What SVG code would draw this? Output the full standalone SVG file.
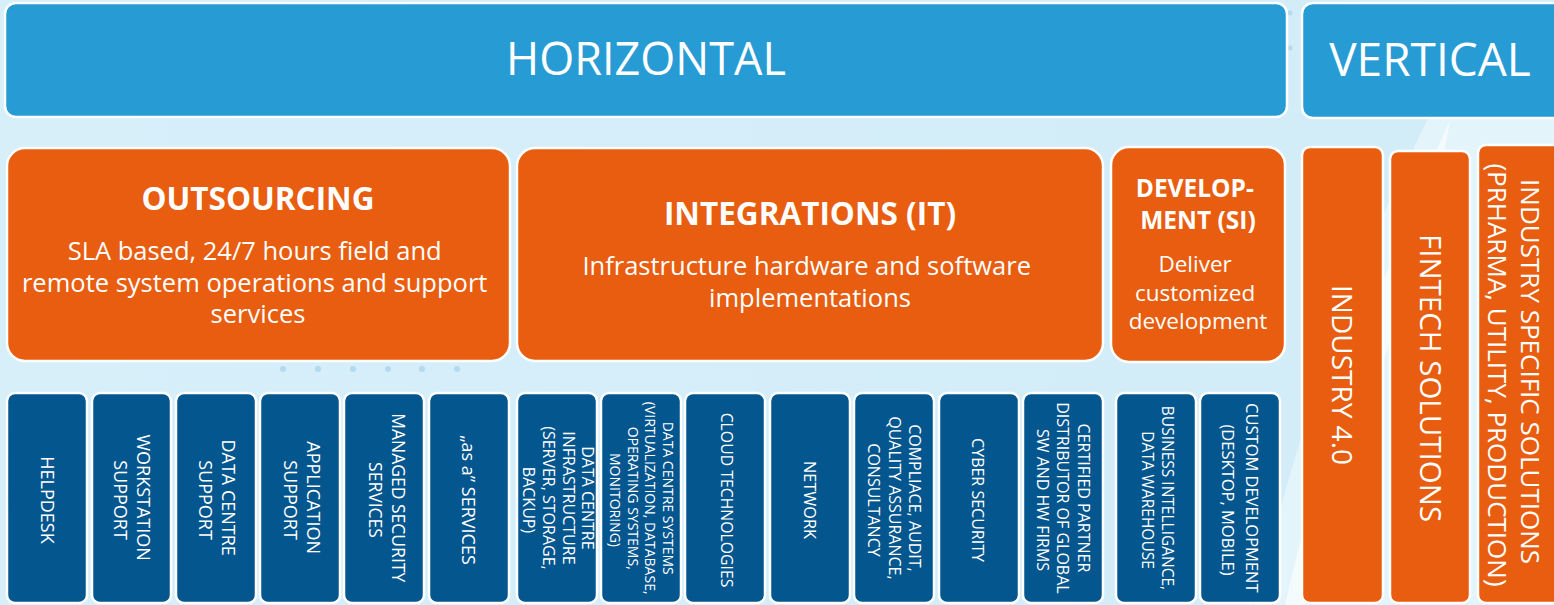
<svg xmlns="http://www.w3.org/2000/svg" width="1554" height="605" viewBox="0 0 1554 605">
<defs>
<linearGradient id="bg" x1="0" y1="0" x2="1" y2="0">
<stop offset="0" stop-color="#d6eff9"/>
<stop offset="1" stop-color="#d2ecf8"/>
</linearGradient>
<style>
.t{font-family:"Open Sans","Liberation Sans",sans-serif;fill:#ffffff}
.hd{fill:#279bd4;stroke:#ffffff;stroke-width:2.5}
.or{fill:#e85d0f;stroke:#ffffff;stroke-width:2.5}
.nv{fill:#04568f;stroke:#ffffff;stroke-width:2.5}
.b{font-weight:bold}
.dot{fill:#b5d9ee}
</style>
</defs>
<rect x="0" y="0" width="1554" height="605" fill="url(#bg)"/>
<path d="M1255,605 C1300,420 1360,250 1440,95 L1554,95 L1554,605 Z" fill="#e4f4fb"/>
<path d="M1285,605 C1320,450 1370,300 1450,120 C1420,300 1330,480 1305,605 Z" fill="#ffffff" opacity="0.6"/>
<g id="decor">
<circle class="dot" cx="283" cy="369" r="3"/>
<circle class="dot" cx="318" cy="369" r="3"/>
<circle class="dot" cx="353" cy="369" r="3"/>
<circle class="dot" cx="388" cy="369" r="3"/>
<circle class="dot" cx="422" cy="369" r="3"/>
<circle class="dot" cx="457" cy="369" r="3"/>
<circle class="dot" cx="1290" cy="13" r="2.5"/>
<circle class="dot" cx="1290" cy="48" r="2.5"/>
</g>
<g id="connectors"></g>

<g id="horizontal">
<rect class="hd" x="5" y="3" width="1282" height="114" rx="11"/>
<text class="t" x="646" y="75" font-size="45" text-anchor="middle">HORIZONTAL</text>
</g>
<g id="vertical">
<rect class="hd" x="1302" y="3" width="262" height="115" rx="11"/>
<text class="t" x="1430" y="76" font-size="46" text-anchor="middle">VERTICAL</text>
</g>

<g id="outsourcing">
<rect class="or" x="7" y="148" width="503" height="213" rx="18"/>
<text class="t b" x="258" y="210" font-size="31.5" text-anchor="middle">OUTSOURCING</text>
<text class="t" font-size="25.5" text-anchor="middle">
<tspan x="258" y="260">SLA based, 24/7 hours field and</tspan>
<tspan x="258" y="292">remote system operations and support</tspan>
<tspan x="258" y="323">services</tspan>
</text>
</g>
<g id="integrations">
<rect class="or" x="517" y="148" width="586" height="213" rx="18"/>
<text class="t b" x="810" y="225" font-size="31.5" text-anchor="middle">INTEGRATIONS (IT)</text>
<text class="t" font-size="25.5" text-anchor="middle">
<tspan x="810" y="275">Infrastructure hardware and software</tspan>
<tspan x="810" y="307">implementations</tspan>
</text>
</g>
<g id="development">
<rect class="or" x="1111" y="147" width="174" height="215" rx="18"/>
<text class="t b" font-size="24.5" text-anchor="middle">
<tspan x="1198" y="197">DEVELOP-</tspan>
<tspan x="1198" y="229">MENT (SI)</tspan>
</text>
<text class="t" font-size="22.5" text-anchor="middle">
<tspan x="1198" y="272">Deliver</tspan>
<tspan x="1198" y="300.5">customized</tspan>
<tspan x="1198" y="329">development</tspan>
</text>
</g>

<g id="industry40">
<rect class="or" x="1302" y="147" width="81" height="456" rx="8"/>
<text class="t" transform="translate(1342,375) rotate(90)" font-size="28" text-anchor="middle" y="10">INDUSTRY 4.0</text>
</g>
<g id="fintech">
<rect class="or" x="1390" y="151" width="80" height="452" rx="8"/>
<text class="t" transform="translate(1430,378) rotate(90)" font-size="29.5" text-anchor="middle" y="10.5">FINTECH SOLUTIONS</text>
</g>
<g id="industry-specific">
<rect class="or" x="1478" y="145" width="90" height="458" rx="8"/>
<text class="t" transform="translate(1513.5,375) rotate(90)" font-size="26" text-anchor="middle">
<tspan x="0" y="-7.2">INDUSTRY SPECIFIC SOLUTIONS</tspan>
<tspan x="0" y="25.8">(PRHARMA, UTILITY, PRODUCTION)</tspan>
</text>
</g>

<g id="helpdesk">
<rect class="nv" x="7" y="393" width="80" height="210" rx="8"/>
<text class="t" transform="translate(47,500) rotate(90)" font-size="18" text-anchor="middle" y="6.4">HELPDESK</text>
</g>
<g id="workstation">
<rect class="nv" x="92" y="393" width="79" height="210" rx="8"/>
<text class="t" transform="translate(132,500) rotate(90)" font-size="18" text-anchor="middle">
<tspan x="0" y="-5">WORKSTATION</tspan>
<tspan x="0" y="18">SUPPORT</tspan>
</text>
</g>
<g id="dc-support">
<rect class="nv" x="176" y="393" width="80" height="210" rx="8"/>
<text class="t" transform="translate(216.5,500) rotate(90)" font-size="18" text-anchor="middle">
<tspan x="0" y="-5">DATA CENTRE</tspan>
<tspan x="0" y="18">SUPPORT</tspan>
</text>
</g>
<g id="app-support">
<rect class="nv" x="260" y="393" width="80" height="210" rx="8"/>
<text class="t" transform="translate(301.5,500) rotate(90)" font-size="18" text-anchor="middle">
<tspan x="0" y="-5">APPLICATION</tspan>
<tspan x="0" y="18">SUPPORT</tspan>
</text>
</g>
<g id="managed-security">
<rect class="nv" x="344" y="393" width="80" height="210" rx="8"/>
<text class="t" transform="translate(386.5,500) rotate(90)" font-size="17.5" text-anchor="middle">
<tspan x="0" y="-5">MANAGED SECURITY</tspan>
<tspan x="0" y="18">SERVICES</tspan>
</text>
</g>
<g id="as-a-services">
<rect class="nv" x="429" y="393" width="80" height="210" rx="8"/>
<text class="t" transform="translate(468,500) rotate(90)" font-size="18" text-anchor="middle" y="6.4">„as a” SERVICES</text>
</g>

<g id="dc-infra">
<rect class="nv" x="517" y="393" width="80" height="210" rx="8"/>
<text class="t" transform="translate(557.5,500) rotate(90)" font-size="16" text-anchor="middle">
<tspan x="0" y="-24.8">DATA CENTRE</tspan>
<tspan x="0" y="-5">INFRASTRUCTURE</tspan>
<tspan x="0" y="14.8">(SERVER, STORAGE,</tspan>
<tspan x="0" y="34.6">BACKUP)</tspan>
</text>
</g>
<g id="dc-systems">
<rect class="nv" x="601" y="393" width="80" height="210" rx="8"/>
<text class="t" transform="translate(641.5,500) rotate(90)" font-size="14" text-anchor="middle">
<tspan x="0" y="-21.5">DATA CENTRE SYSTEMS</tspan>
<tspan x="0" y="-3.8">(VIRTUALIZATION, DATABASE,</tspan>
<tspan x="0" y="13.9">OPERATING SYSTEMS,</tspan>
<tspan x="0" y="31.6">MONITORING)</tspan>
</text>
</g>
<g id="cloud">
<rect class="nv" x="685" y="393" width="80" height="210" rx="8"/>
<text class="t" transform="translate(727,500) rotate(90)" font-size="15.8" text-anchor="middle" y="5.6">CLOUD TECHNOLOGIES</text>
</g>
<g id="network">
<rect class="nv" x="770" y="393" width="80" height="210" rx="8"/>
<text class="t" transform="translate(810,500) rotate(90)" font-size="16.3" text-anchor="middle" y="5.8">NETWORK</text>
</g>
<g id="compliance">
<rect class="nv" x="854" y="393" width="80" height="210" rx="8"/>
<text class="t" transform="translate(894,500) rotate(90)" font-size="16" text-anchor="middle">
<tspan x="0" y="-15">COMPLIACE, AUDIT,</tspan>
<tspan x="0" y="5.3">QUALITY ASSURANCE,</tspan>
<tspan x="0" y="25.6">CONSULTANCY</tspan>
</text>
</g>
<g id="cyber">
<rect class="nv" x="939" y="393" width="80" height="210" rx="8"/>
<text class="t" transform="translate(978,500) rotate(90)" font-size="16" text-anchor="middle" y="5.7">CYBER SECURITY</text>
</g>
<g id="certified">
<rect class="nv" x="1023" y="393" width="80" height="210" rx="8"/>
<text class="t" transform="translate(1063,500) rotate(90)" font-size="16" text-anchor="middle">
<tspan x="0" y="-14.8">CERTIFIED PARTNER</tspan>
<tspan x="0" y="5.7">DISTRIBUTOR OF GLOBAL</tspan>
<tspan x="0" y="26.2">SW AND HW FIRMS</tspan>
</text>
</g>

<g id="bi">
<rect class="nv" x="1116" y="393" width="80" height="210" rx="8"/>
<text class="t" transform="translate(1157,500) rotate(90)" font-size="15.5" text-anchor="middle">
<tspan x="0" y="-4.5">BUSINESS INTELLIGANCE,</tspan>
<tspan x="0" y="15.5">DATA WAREHOUSE</tspan>
</text>
</g>
<g id="custom-dev">
<rect class="nv" x="1200" y="393" width="80" height="210" rx="8"/>
<text class="t" transform="translate(1240,500) rotate(90)" font-size="16.5" text-anchor="middle">
<tspan x="0" y="-6">CUSTOM DEVELOPMENT</tspan>
<tspan x="0" y="17.9">(DESKTOP, MOBILE)</tspan>
</text>
</g>
</svg>
